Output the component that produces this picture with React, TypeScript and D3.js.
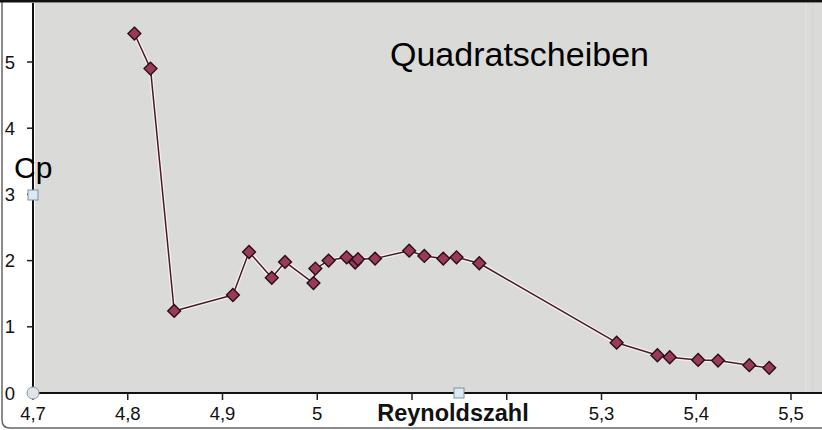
import React from "react";
import * as d3 from "d3";

const reynolds = [4.807, 4.824, 4.849, 4.911, 4.928, 4.952, 4.966, 4.996, 4.998, 5.012, 5.031, 5.040, 5.043, 5.061, 5.097, 5.113, 5.133, 5.147, 5.171, 5.316, 5.359, 5.372, 5.402, 5.423, 5.456, 5.477];
const cp = [5.43, 4.90, 1.24, 1.48, 2.13, 1.74, 1.98, 1.66, 1.88, 2.00, 2.05, 1.97, 2.02, 2.03, 2.15, 2.07, 2.03, 2.05, 1.96, 0.76, 0.57, 0.54, 0.50, 0.49, 0.42, 0.38];
const xTicks = [4.7, 4.8, 4.9, 5.0, 5.1, 5.2, 5.3, 5.4, 5.5];
const xTickLabels = ["4,7", "4,8", "4,9", "5", "", "", "5,3", "5,4", "5,5"];
const yTicks = [0, 1, 2, 3, 4, 5];
const title = "Quadratscheiben";
const xLabel = "Reynoldszahl";
const yLabel = "Cp";

const W = 822;
const H = 430;

export default function App() {
  const x = d3.scaleLinear().domain([4.7, 5.5]).range([33, 791]);
  const y = d3.scaleLinear().domain([0, 5]).range([393, 62]);
  const pts = reynolds.map((r, i) => [x(r), y(cp[i])] as [number, number]);
  const line = d3.line()(pts) || "";
  const diamond = d3.symbol().type(d3.symbolDiamond2).size(105)() || "";
  const font = "'Liberation Sans', Arial, sans-serif";
  return (
    <svg width={W} height={H} style={{ position: "absolute", left: 0, top: 0, background: "#fff" }} fontFamily={font}>
      <path d={`M2,1 H${W + 5} V428 H10 Q2,428 2,420 Z`} fill="#fff" stroke="#666" strokeWidth={1.5} />
      <line x1={0} x2={W} y1={1} y2={1} stroke="#111" strokeWidth={3} />
      <rect x={35} y={3} width={W - 35} height={389} fill="#dadbd8" />
      <line x1={806} x2={806} y1={3} y2={392} stroke="#e0e0df" strokeWidth={1.5} />
      <line x1={813} x2={813} y1={3} y2={392} stroke="#d2d2d2" strokeWidth={1} />
      {/* axes */}
      <line x1={33} x2={33} y1={3} y2={394} stroke="#111" strokeWidth={2} />
      <line x1={33} x2={W} y1={393} y2={393} stroke="#111" strokeWidth={2} />
      {yTicks.map((t) => (
        <g key={"y" + t}>
          <line x1={27} x2={33} y1={y(t)} y2={y(t)} stroke="#222" strokeWidth={1.5} />
          <text x={10} y={y(t)} dy="0.36em" textAnchor="middle" fontSize={18.5} fill="#111">{t}</text>
        </g>
      ))}
      {xTicks.map((t, i) => (
        <g key={"x" + t}>
          <line x1={x(t)} x2={x(t)} y1={393} y2={400} stroke="#222" strokeWidth={1.5} />
          {xTickLabels[i] && (
            <text x={x(t)} y={420} textAnchor="middle" fontSize={18.5} fill="#111">{xTickLabels[i]}</text>
          )}
        </g>
      ))}
      <text x={453} y={421} textAnchor="middle" fontSize={23.5} fontWeight="bold" fill="#111">{xLabel}</text>
      <text x={14} y={178} fontSize={30} fill="#000">{yLabel}</text>
      <text x={390} y={66} fontSize={34} fill="#000">{title}</text>
      {/* series */}
      <path d={line} fill="none" stroke="#f4f2f2" strokeWidth={4} strokeLinejoin="round" />
      <path d={line} fill="none" stroke="#4a1a2a" strokeWidth={1.5} strokeLinejoin="round" />
      {pts.map((p, i) => (
        <path key={i} d={diamond} transform={`translate(${p[0]},${p[1]})`} fill="#9a3a5a" stroke="#2a0d16" strokeWidth={1.4} />
      ))}
      {/* selection handles */}
      <rect x={28} y={190} width={10} height={10} fill="#dce9f2" stroke="#7a93a8" strokeWidth={1} />
      <circle cx={33} cy={393} r={6} fill="#dfe6ea" stroke="#8898a4" strokeWidth={1} />
      <rect x={454} y={388} width={10} height={10} fill="#dce9f2" stroke="#7a93a8" strokeWidth={1} />
    </svg>
  );
}
